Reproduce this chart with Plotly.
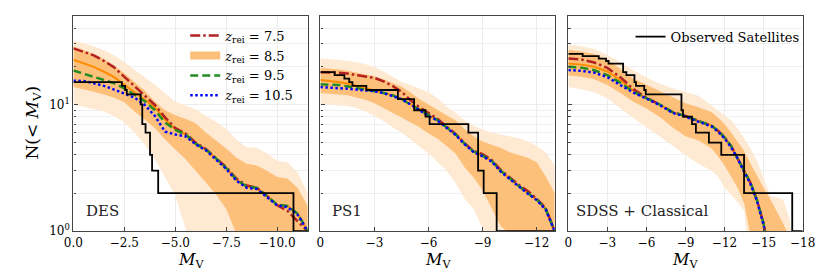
import math
import plotly.graph_objects as go

FONT = "DejaVu Serif"

# ---------------- data ----------------
# Panel 1: DES
M_des = [0.0, -0.5, -1.0, -1.5, -2.0, -2.5, -3.0, -3.5, -4.0, -4.5, -5.0, -5.5,
         -6.0, -6.5, -7.0, -7.5, -8.0, -8.5, -9.0, -9.5, -10.0, -10.5, -11.0, -11.5]
des_z75 = [27.7, 26.0, 24.4, 22.0, 19.6, 16.5, 13.9, 11.7, 9.9, 7.9, 6.5, 5.9,
           5.0, 4.45, 3.8, 3.2, 2.6, 2.3, 2.2, 1.9, 1.6, 1.45, 1.2, 1.0]
des_z85 = [22.5, 21.2, 19.8, 18.1, 16.4, 14.3, 12.5, 11.0, 9.5, 7.6, 6.4, 5.8,
           4.9, 4.4, 3.75, 3.15, 2.55, 2.25, 2.2, 1.9, 1.62, 1.58, 1.38, 1.0]
des_z95 = [18.5, 17.5, 16.6, 15.7, 14.7, 13.4, 12.0, 10.6, 9.0, 7.2, 6.3, 5.8,
           4.9, 4.4, 3.75, 3.15, 2.55, 2.25, 2.2, 1.9, 1.62, 1.58, 1.38, 1.0]
des_z105 = [15.4, 15.3, 14.7, 14.0, 13.1, 12.2, 11.3, 9.9, 8.1, 6.1, 5.8, 5.6,
            4.85, 4.35, 3.7, 3.1, 2.5, 2.2, 2.15, 1.85, 1.6, 1.55, 1.35, 1.0]
des_hi95 = [32.0, 30.5, 28.8, 26.8, 24.3, 21.5, 18.8, 16.4, 14.3, 12.2, 10.5, 9.8,
            9.1, 8.1, 7.3, 6.4, 5.3, 4.6, 4.55, 4.1, 3.6, 3.5, 2.9, 2.0]
des_hi68 = [28.8, 27.0, 25.0, 22.8, 20.3, 17.6, 15.0, 12.8, 10.5, 9.0, 8.2, 7.7,
            7.1, 6.0, 5.2, 4.5, 3.8, 3.4, 3.3, 3.0, 2.68, 2.6, 2.2, 1.58]
des_lo68 = [13.7, 13.2, 12.6, 12.0, 11.3, 10.4, 8.8, 7.6, 6.5, 5.3, 4.4, 3.7,
            3.0, 2.4, 1.95, 1.5, 0.95, 0.5, 0.5, 0.5, 0.5, 0.5, 0.5, 0.5]
des_lo95 = [10.0, 9.6, 9.2, 8.8, 8.1, 7.2, 6.0, 4.8, 3.7, 2.7, 1.92, 1.05,
            0.6, 0.5, 0.5, 0.5, 0.5, 0.5, 0.5, 0.5, 0.5, 0.5, 0.5, 0.5]
des_obs_M = [0.0, -2.38, -2.54, -2.62, -3.30, -3.38, -3.54, -3.76, -3.86, -4.16, -10.8, -11.5]
des_obs_N = [15, 14, 13, 12, 10, 7, 6, 4, 3, 2, 1, 1]

# Panel 2: PS1
M_ps1 = [0.0, -0.5, -1.0, -1.5, -2.0, -2.5, -3.0, -3.5, -4.0, -4.5, -5.0, -5.5, -6.0,
         -6.5, -7.0, -7.5, -8.0, -8.5, -9.0, -9.5, -10.0, -10.5, -11.0, -11.5, -12.0, -12.5, -13.0]
ps1_z75 = [17.9, 17.9, 17.8, 17.5, 17.1, 16.7, 16.2, 15.2, 14.0, 12.6, 10.8, 9.5, 8.6,
           7.7, 6.7, 5.85, 4.95, 4.3, 4.05, 3.65, 3.05, 2.65, 2.32, 2.08, 1.8, 1.52, 1.0]
ps1_z85 = [15.6, 15.4, 15.0, 14.6, 14.0, 13.5, 12.9, 12.4, 11.8, 11.0, 10.1, 9.2, 8.2,
           7.5, 6.6, 5.8, 4.9, 4.25, 3.95, 3.6, 3.0, 2.6, 2.28, 2.0, 1.78, 1.5, 1.0]
ps1_z95 = [14.4, 14.3, 14.2, 13.9, 13.5, 13.2, 12.8, 12.3, 11.8, 11.0, 10.0, 9.1, 8.2,
           7.5, 6.6, 5.8, 4.9, 4.25, 3.95, 3.6, 3.0, 2.6, 2.28, 2.0, 1.78, 1.5, 1.0]
ps1_z105 = [13.7, 13.6, 13.5, 13.3, 13.1, 12.9, 12.7, 12.3, 11.7, 11.0, 10.0, 9.0, 8.1,
            7.45, 6.55, 5.75, 4.85, 4.2, 3.9, 3.55, 2.95, 2.58, 2.25, 1.98, 1.76, 1.48, 1.0]
ps1_hi95 = [23.0, 22.8, 22.4, 22.0, 21.5, 20.7, 19.7, 18.3, 16.6, 15.0, 14.2, 13.4, 12.5,
            11.2, 9.6, 8.6, 7.5, 6.8, 6.3, 6.0, 5.8, 5.6, 5.4, 5.1, 4.7, 4.2, 3.3]
ps1_hi68 = [19.4, 19.2, 18.9, 18.4, 17.8, 17.3, 16.7, 15.8, 14.8, 13.8, 12.4, 11.0, 10.0,
            9.0, 8.2, 7.5, 6.4, 5.6, 5.1, 4.8, 4.55, 4.2, 4.0, 3.8, 3.5, 2.7, 2.0]
ps1_lo68 = [12.3, 12.2, 12.0, 11.8, 11.4, 10.9, 10.2, 9.3, 8.6, 7.9, 7.2, 6.6, 5.9,
            5.35, 4.7, 4.1, 3.2, 2.65, 2.1, 1.5, 1.1, 0.95, 0.5, 0.5, 0.5, 0.5, 0.5]
ps1_lo95 = [10.1, 10.0, 9.9, 9.7, 9.4, 8.8, 8.1, 7.4, 6.6, 6.0, 5.3, 4.7, 4.1,
            3.5, 3.0, 2.4, 1.8, 1.5, 1.05, 0.5, 0.5, 0.5, 0.5, 0.5, 0.5, 0.5, 0.5]
ps1_obs_M = [0.0, -0.79, -1.33, -1.6, -1.78, -2.55, -4.3, -5.2, -5.83, -6.06, -8.21, -8.75, -9.06, -9.78, -13.0]
ps1_obs_N = [18, 17, 16, 15, 14, 13, 11, 9, 8, 7, 6, 3, 2, 1, 1]

# Panel 3: SDSS + Classical
M_sdss = [0.0, -1.0, -2.0, -3.0, -4.0, -5.0, -6.0, -7.0, -8.0, -9.0, -10.0, -11.0, -11.5,
          -12.0, -12.5, -13.0, -13.5, -14.0, -14.5, -15.0, -15.5, -16.0, -16.5, -17.0, -17.5, -18.0]
sdss_z75 = [23.0, 22.6, 21.4, 19.4, 16.4, 13.2, 11.3, 10.0, 8.7, 8.1, 7.4, 6.8, 6.2,
            5.5, 4.7, 3.8, 3.0, 2.4, 1.75, 1.15, 0.6, None, None, None, None, None]
sdss_z85 = [21.0, 20.6, 19.8, 18.2, 15.5, 12.8, 11.2, 10.0, 8.7, 8.1, 7.4, 6.8, 6.2,
            5.5, 4.7, 3.8, 3.0, 2.4, 1.75, 1.15, 0.6, None, None, None, None, None]
sdss_z95 = [19.8, 19.5, 18.6, 17.0, 14.8, 12.6, 11.2, 10.0, 8.7, 8.1, 7.4, 6.8, 6.2,
            5.5, 4.7, 3.8, 3.0, 2.4, 1.75, 1.15, 0.6, None, None, None, None, None]
sdss_z105 = [18.7, 18.4, 17.8, 16.4, 14.2, 12.4, 11.1, 9.9, 8.6, 8.0, 7.3, 6.7, 6.1,
             5.4, 4.6, 3.75, 2.95, 2.35, 1.72, 1.12, 0.6, None, None, None, None, None]
sdss_hi95 = [29.7, 28.8, 27.3, 24.5, 21.5, 18.5, 16.3, 14.6, 13.4, 12.5, 11.7, 9.8, 9.0,
             8.3, 7.5, 6.5, 5.45, 4.5, 3.6, 2.6, 1.9, 1.85, 1.77, 1.25, 0.5, 0.5]
sdss_hi68 = [27.0, 26.2, 25.0, 22.5, 19.0, 16.0, 14.3, 12.8, 11.3, 10.2, 9.5, 8.7, 7.9,
             7.0, 6.0, 5.1, 4.3, 3.4, 2.7, 2.2, 1.8, 1.45, 1.15, 0.9, 0.5, 0.5]
sdss_lo68 = [16.9, 16.5, 15.8, 14.2, 12.3, 10.5, 9.3, 8.0, 6.6, 5.6, 5.2, 4.5, 3.9,
             3.3, 2.7, 2.2, 1.67, 0.9, 0.5, 0.5, 0.5, 0.5, 0.5, 0.5, 0.5, 0.5]
sdss_lo95 = [13.7, 13.2, 12.5, 11.2, 9.3, 7.8, 6.6, 5.6, 4.7, 4.0, 3.4, 3.0, 2.7,
             2.2, 1.95, 1.7, 1.45, 0.5, 0.5, 0.5, 0.5, 0.5, 0.5, 0.5, 0.5, 0.5]
sdss_obs_M = [0.0, -1.1, -2.34, -2.9, -3.09, -4.21, -4.46, -5.08, -5.2, -5.83, -5.95, -8.69,
              -8.81, -9.5, -9.8, -10.8, -11.75, -13.5, -17.2, -18.0]
sdss_obs_N = [25, 24, 23, 22, 21, 18, 17, 15, 14, 13, 12, 9, 8, 7, 6, 5, 4, 2, 1, 1]

# ticks
des_tickvals = [0, -2.5, -5, -7.5, -10]
des_ticktext = ["0.0", "\u22122.5", "\u22125.0", "\u22127.5", "\u221210.0"]
ps1_tickvals = [0, -3, -6, -9, -12]
ps1_ticktext = ["0", "\u22123", "\u22126", "\u22129", "\u221212"]
sdss_tickvals = [0, -3, -6, -9, -12, -15, -18]
sdss_ticktext = ["0", "\u22123", "\u22126", "\u22129", "\u221212", "\u221215", "\u221218"]
y_tickvals = [1, 10]
y_ticktext = ["10<sup>0</sup>", "10<sup>1</sup>"]
y_minor = [2, 3, 4, 5, 6, 7, 8, 9, 20, 30, 40]

panel_names = ["DES", "PS1", "SDSS + Classical"]
panel_label_x = [0.045, 0.04, 0.025]
x_ranges = [[0, -11.5], [0, -13], [0, -18]]
x_title = "<i>M</i><sub>V</sub>"
y_title = "N(&lt; <i>M</i><sub>V</sub>)"
z_labels = ["<i>z</i><sub>rei</sub> = 7.5", "<i>z</i><sub>rei</sub> = 8.5",
            "<i>z</i><sub>rei</sub> = 9.5", "<i>z</i><sub>rei</sub> = 10.5"]

panels = [
    dict(M=M_des, z75=des_z75, z85=des_z85, z95=des_z95, z105=des_z105,
         hi95=des_hi95, hi68=des_hi68, lo68=des_lo68, lo95=des_lo95,
         oM=des_obs_M, oN=des_obs_N, tv=des_tickvals, tt=des_ticktext),
    dict(M=M_ps1, z75=ps1_z75, z85=ps1_z85, z95=ps1_z95, z105=ps1_z105,
         hi95=ps1_hi95, hi68=ps1_hi68, lo68=ps1_lo68, lo95=ps1_lo95,
         oM=ps1_obs_M, oN=ps1_obs_N, tv=ps1_tickvals, tt=ps1_ticktext),
    dict(M=M_sdss, z75=sdss_z75, z85=sdss_z85, z95=sdss_z95, z105=sdss_z105,
         hi95=sdss_hi95, hi68=sdss_hi68, lo68=sdss_lo68, lo95=sdss_lo95,
         oM=sdss_obs_M, oN=sdss_obs_N, tv=sdss_tickvals, tt=sdss_ticktext),
]

# ---------------- styles ----------------
C_OUT = "rgb(254,233,210)"
C_IN = "rgb(253,192,122)"
C_RED = "rgb(178,34,34)"
C_ORA = "rgb(255,140,0)"
C_GRN = "rgb(34,139,34)"
C_BLU = "rgb(0,0,255)"

fig = go.Figure()

for i, p in enumerate(panels):
    xa = "x" if i == 0 else f"x{i+1}"
    ya = "y" if i == 0 else f"y{i+1}"
    M = p["M"]
    common = dict(xaxis=xa, yaxis=ya, mode="lines", hoverinfo="skip")
    fig.add_trace(go.Scatter(x=M, y=p["lo95"], line=dict(width=0, color=C_OUT),
                             showlegend=False, **common))
    fig.add_trace(go.Scatter(x=M, y=p["hi95"], line=dict(width=0, color=C_OUT),
                             fill="tonexty", fillcolor=C_OUT, showlegend=False, **common))
    fig.add_trace(go.Scatter(x=M, y=p["lo68"], line=dict(width=0, color=C_IN),
                             showlegend=False, **common))
    fig.add_trace(go.Scatter(x=M, y=p["hi68"], line=dict(width=0, color=C_IN),
                             fill="tonexty", fillcolor=C_IN, showlegend=False, **common))
    fig.add_trace(go.Scatter(x=M, y=p["z85"], line=dict(width=2, color=C_ORA),
                             showlegend=False, **common))
    fig.add_trace(go.Scatter(x=M, y=p["z75"], name=z_labels[0],
                             line=dict(width=2.5, color=C_RED, dash="10px,3px,2.5px,3px"),
                             showlegend=(i == 0), legend="legend", **common))
    if i == 0:
        fig.add_trace(go.Scatter(x=[None], y=[None], name=z_labels[1],
                                 line=dict(width=8, color=C_IN),
                                 showlegend=True, legend="legend", **common))
    fig.add_trace(go.Scatter(x=M, y=p["z95"], name=z_labels[2],
                             line=dict(width=2.5, color=C_GRN, dash="8px,4px"),
                             showlegend=(i == 0), legend="legend", **common))
    fig.add_trace(go.Scatter(x=M, y=p["z105"], name=z_labels[3],
                             line=dict(width=2.5, color=C_BLU, dash="2.5px,2.5px"),
                             showlegend=(i == 0), legend="legend", **common))
    fig.add_trace(go.Scatter(x=p["oM"], y=p["oN"], name="Observed Satellites",
                             line=dict(width=1.8, color="black", shape="hv"),
                             showlegend=(i == 2), legend="legend2", **common))

W, H = 830, 277
x_domains = [[57 / W, 298 / W], [311 / W, 552 / W], [566 / W, 807 / W]]
y_domain = [1 - 229 / H, 1 - 8 / H]

axis_common = dict(showline=True, mirror=True, linecolor="#444", linewidth=1.3,
                   ticks="inside", ticklen=4, tickcolor="#444", tickwidth=1,
                   showgrid=True, gridcolor="#ececec", gridwidth=0.8, zeroline=False,
                   tickfont=dict(family=FONT, size=12, color="black"))

layout = dict(width=W, height=H, margin=dict(l=0, r=0, t=0, b=0),
              paper_bgcolor="white", plot_bgcolor="white",
              font=dict(family=FONT, color="black"))

annotations = []
for i in range(3):
    xk = "xaxis" if i == 0 else f"xaxis{i+1}"
    yk = "yaxis" if i == 0 else f"yaxis{i+1}"
    ya = "y" if i == 0 else f"y{i+1}"
    xa = "x" if i == 0 else f"x{i+1}"
    layout[xk] = dict(axis_common, domain=x_domains[i], anchor=ya, range=x_ranges[i],
                      tickmode="array", tickvals=panels[i]["tv"], ticktext=panels[i]["tt"])
    layout[yk] = dict(axis_common, domain=y_domain, anchor=xa, type="log",
                      range=[0, math.log10(50)], tickmode="array",
                      tickvals=y_tickvals, ticktext=y_ticktext,
                      showticklabels=(i == 0),
                      minor=dict(tickmode="array", tickvals=y_minor, ticks="inside",
                                 ticklen=2.5, tickcolor="#444", showgrid=True,
                                 gridcolor="#efefef", gridwidth=0.8))
    # x-axis title
    annotations.append(dict(text=x_title, xref=f"{xa} domain", yref="paper",
                            x=0.5, y=1 - 259 / H, xanchor="center", yanchor="middle",
                            showarrow=False, font=dict(family=FONT, size=16, color="black")))
    # panel label
    annotations.append(dict(text=panel_names[i], xref=f"{xa} domain", yref=f"{ya} domain",
                            x=panel_label_x[i], y=0.095, xanchor="left", yanchor="middle",
                            showarrow=False, font=dict(family=FONT, size=15, color="#222")))

annotations.append(dict(text=y_title, xref="paper", yref="paper", x=15 / W, y=1 - 118 / H,
                        xanchor="center", yanchor="middle", textangle=-90, showarrow=False,
                        font=dict(family=FONT, size=17, color="black")))
layout["annotations"] = annotations

layout["legend"] = dict(x=172 / W, y=1 - 13 / H, xanchor="left", yanchor="top",
                        bgcolor="rgba(0,0,0,0)", font=dict(family=FONT, size=13),
                        traceorder="normal", tracegroupgap=0)
layout["legend2"] = dict(x=630 / W, y=1 - 14 / H, xanchor="left", yanchor="top",
                         bgcolor="rgba(0,0,0,0)", font=dict(family=FONT, size=13),
                         traceorder="normal")

fig.update_layout(**layout)
fig.write_html("out.html")
